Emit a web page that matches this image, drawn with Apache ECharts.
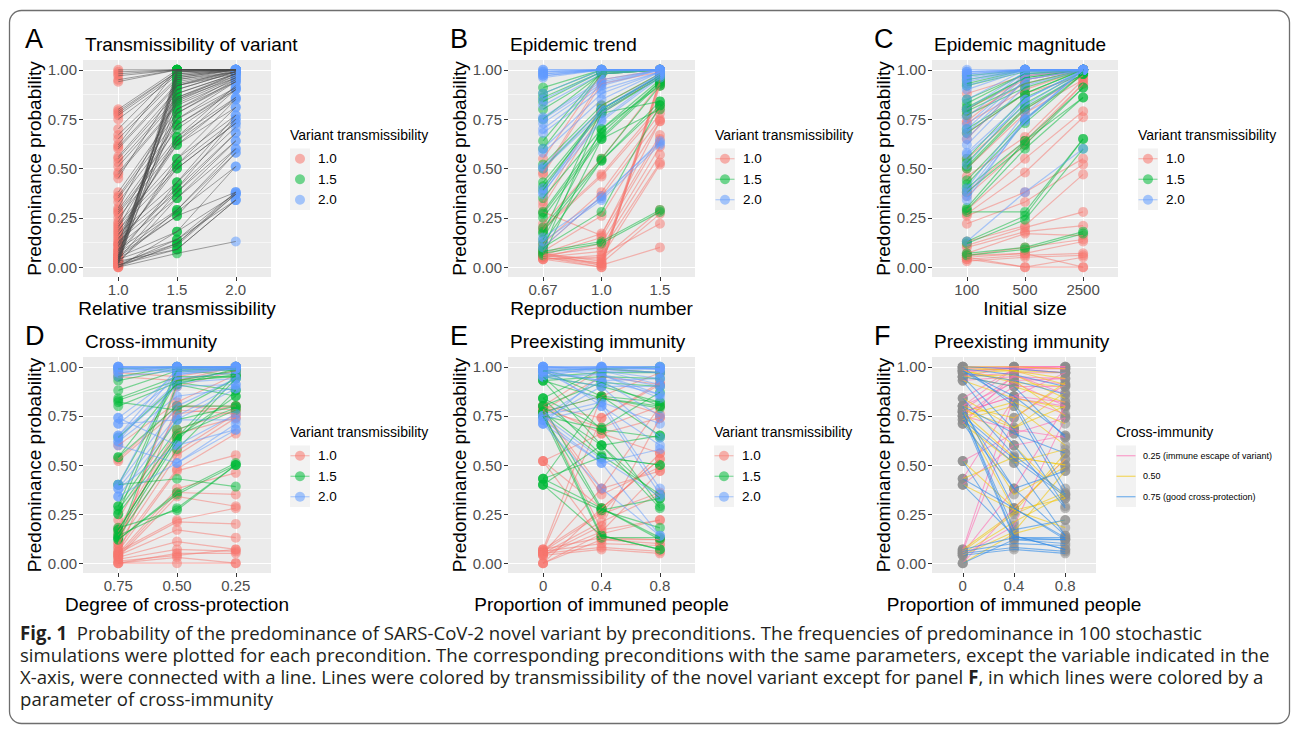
<!DOCTYPE html>
<html><head><meta charset="utf-8">
<script src="https://cdn.jsdelivr.net/npm/echarts@6/dist/echarts.min.js"></script>
<style>html,body{margin:0;padding:0;background:#fff}#c{width:1295px;height:734px}</style>
</head><body><div id="c"></div>
<script>
// ---------------- DATA ----------------
const yTicks = [0, 0.25, 0.5, 0.75, 1];
const yMinor = [0.125, 0.375, 0.625, 0.875];
const catA = ['1.0', '1.5', '2.0'];
const catB = ['0.67', '1.0', '1.5'];
const catC = ['100', '500', '2500'];
const catD = ['0.75', '0.50', '0.25'];
const catE = ['0', '0.4', '0.8'];
const catF = ['0', '0.4', '0.8'];
const transLevels = ['1.0', '1.5', '2.0'];
const crossLevels = ['0.25 (immune escape of variant)', '0.50', '0.75 (good cross-protection)'];

// Panel A: each line = [T1.0, T1.5, T2.0]
const linesA = [
[1.00,1.00,1.00],[0.99,1.00,1.00],[0.98,1.00,1.00],[0.97,1.00,1.00],[0.95,1.00,1.00],[0.94,1.00,1.00],
[0.80,1.00,1.00],[0.79,0.99,1.00],[0.78,0.99,1.00],[0.77,0.98,1.00],[0.75,0.97,1.00],[0.70,1.00,1.00],[0.62,1.00,1.00],
[0.67,0.96,1.00],[0.65,0.95,0.99],[0.61,0.93,0.99],[0.60,0.92,0.98],
[0.56,0.90,0.99],[0.55,0.88,0.98],[0.53,0.86,0.97],[0.51,0.85,0.96],[0.48,0.83,0.96],[0.47,0.82,0.95],[0.45,0.92,1.00],
[0.38,0.80,0.94],[0.36,0.78,0.94],[0.35,0.75,0.91],[0.33,0.72,0.90],[0.30,0.85,0.98],
[0.29,0.70,0.90],[0.28,0.66,0.86],[0.27,0.64,0.85],[0.25,0.62,0.81],
[0.23,0.75,0.94],[0.22,0.55,0.77],[0.21,0.52,0.75],[0.20,0.72,0.91],[0.19,0.50,0.73],[0.18,0.62,0.86],[0.17,0.43,0.71],[0.16,0.64,0.90],[0.15,0.40,0.68],[0.14,0.66,0.92],[0.13,0.38,0.64],[0.12,0.86,0.98],[0.12,0.50,0.73],
[0.11,0.35,0.60],[0.11,0.52,0.81],[0.10,0.88,0.98],[0.09,0.29,0.58],[0.09,0.55,0.85],[0.08,0.94,0.99],[0.08,0.40,0.75],[0.07,0.28,0.51],[0.07,0.80,0.96],[0.06,0.26,0.38],[0.06,0.96,1.00],[0.06,0.43,0.77],
[0.05,0.18,0.37],[0.05,1.00,1.00],[0.05,0.90,0.99],[0.05,0.26,0.58],[0.04,0.14,0.34],[0.04,0.97,1.00],[0.04,0.78,0.95],[0.04,0.38,0.68],[0.03,0.09,0.34],[0.03,0.99,1.00],[0.03,0.92,0.99],[0.03,0.29,0.60],
[0.02,0.12,0.38],[0.02,0.98,1.00],[0.02,0.84,0.97],[0.02,0.35,0.64],[0.01,0.11,0.37],[0.01,0.95,1.00],[0.01,0.14,0.38],[0.01,0.09,0.34],[0.00,0.07,0.13],[0.00,0.18,0.51],[0.00,0.12,0.37]
];

// Panel B: [R0.67, R1.0, R1.5] by transmissibility
const linesB_t10 = [
[0.55,0.98,1.00],[0.48,0.95,1.00],[0.47,0.93,0.99],[0.33,0.82,0.98],[0.31,0.78,0.97],[0.22,0.55,0.93],[0.20,0.47,0.82],[0.19,0.46,0.80],[0.12,0.38,0.78],
[0.10,0.36,0.75],[0.08,0.26,0.74],[0.07,0.17,0.67],[0.06,0.15,0.65],[0.05,0.12,0.61],[0.06,0.10,0.57],[0.05,0.08,0.53],[0.04,0.05,0.52],[0.07,0.03,0.95],
[0.06,0.02,0.94],[0.05,0.00,0.93],[0.04,0.00,0.95],[0.05,0.01,0.92],[0.06,0.04,0.29],[0.05,0.02,0.27],[0.04,0.06,0.22],[0.07,0.01,0.10],[0.28,0.16,0.74]
];
const linesB_t15 = [
[0.91,1.00,1.00],[0.88,1.00,1.00],[0.86,0.99,1.00],[0.84,0.99,1.00],[0.80,0.98,1.00],[0.75,0.98,1.00],[0.64,0.99,1.00],[0.60,0.98,1.00],[0.52,0.82,0.98],
[0.50,0.80,0.97],[0.43,0.79,0.96],[0.41,0.78,0.96],[0.39,0.80,0.97],[0.35,0.70,0.95],[0.28,0.68,0.94],[0.27,0.66,0.94],[0.25,0.65,0.93],[0.20,0.55,0.92],
[0.18,0.54,0.84],[0.17,0.80,0.97],[0.12,0.54,0.82],[0.10,0.28,0.82],[0.08,0.13,0.29],[0.07,0.12,0.28],[0.06,0.65,0.80],[0.09,0.78,0.84],[0.14,0.70,0.92]
];
const linesB_t20 = [
[1.00,1.00,1.00],[0.99,1.00,1.00],[0.98,1.00,1.00],[0.97,1.00,1.00],[1.00,1.00,1.00],[0.99,1.00,1.00],[0.98,1.00,1.00],[0.97,1.00,1.00],[0.96,1.00,1.00],
[0.88,1.00,1.00],[0.85,0.99,1.00],[0.82,0.98,1.00],[0.76,0.95,1.00],[0.75,0.94,1.00],[0.73,0.93,1.00],[0.70,0.92,1.00],[0.68,0.90,0.99],[0.60,0.88,0.99],
[0.58,0.85,0.99],[0.51,0.80,0.98],[0.50,0.78,0.98],[0.40,0.75,0.97],[0.38,0.74,0.96],[0.37,0.80,0.97],[0.15,0.35,0.64],[0.13,0.34,0.62],[0.10,0.36,0.63]
];

// Panel C: [N100, N500, N2500]
const linesC_t10 = [
[0.88,0.97,1.00],[0.80,0.95,1.00],[0.77,0.93,1.00],[0.74,0.97,1.00],[0.73,0.90,1.00],[0.68,0.88,0.97],[0.65,0.95,1.00],[0.55,0.80,0.97],[0.50,0.78,0.95],
[0.46,0.66,0.95],[0.38,0.64,0.93],[0.36,0.62,0.93],[0.29,0.55,0.79],[0.27,0.48,0.76],[0.26,0.38,0.55],[0.22,0.33,0.52],[0.13,0.21,0.47],[0.11,0.20,0.28],
[0.10,0.18,0.21],[0.07,0.17,0.16],[0.06,0.10,0.14],[0.05,0.07,0.13],[0.04,0.06,0.07],[0.03,0.05,0.06],[0.05,0.00,0.05],[0.04,0.00,0.00],[0.06,0.07,0.00]
];
const linesC_t15 = [
[0.97,1.00,1.00],[0.95,1.00,1.00],[0.93,1.00,1.00],[0.92,0.99,1.00],[0.85,0.98,1.00],[0.83,0.98,1.00],[0.81,0.96,1.00],[0.80,0.96,1.00],[0.79,0.93,1.00],
[0.77,0.91,1.00],[0.70,0.88,1.00],[0.68,0.88,1.00],[0.55,0.86,0.99],[0.53,0.83,0.99],[0.51,0.81,0.98],[0.50,0.80,0.98],[0.44,0.75,0.98],[0.42,0.73,0.98],
[0.40,0.64,0.91],[0.38,0.62,0.91],[0.29,0.60,0.86],[0.28,0.28,0.65],[0.13,0.26,0.65],[0.12,0.24,0.60],[0.07,0.10,0.18],[0.06,0.09,0.17],[0.30,0.64,0.86]
];
const linesC_t20 = [
[1.00,1.00,1.00],[0.99,1.00,1.00],[0.98,1.00,1.00],[0.97,1.00,1.00],[0.96,1.00,1.00],[0.94,1.00,1.00],[0.92,1.00,1.00],[0.90,1.00,1.00],[0.85,1.00,1.00],
[0.80,0.99,1.00],[0.76,0.99,1.00],[0.72,0.98,1.00],[0.70,0.97,1.00],[0.68,0.95,1.00],[0.65,0.95,1.00],[0.58,0.85,1.00],[0.57,0.82,1.00],[0.52,0.85,1.00],
[0.40,0.78,1.00],[0.38,0.75,1.00],[0.36,0.74,1.00],[0.34,0.75,1.00],[0.13,0.38,0.60],[0.98,1.00,1.00],[0.99,1.00,1.00],[0.95,1.00,1.00],[0.62,0.92,1.00]
];

// Panel D: [C0.75, C0.50, C0.25]
const linesD_t10 = [
[0.97,0.95,1.00],[0.95,0.93,0.98],[0.60,0.82,0.96],[0.53,0.80,0.78],[0.52,0.78,0.76],[0.22,0.76,0.80],[0.18,0.68,0.78],[0.16,0.66,0.74],[0.14,0.57,0.76],
[0.10,0.55,0.74],[0.08,0.48,0.66],[0.06,0.47,0.55],[0.05,0.38,0.46],[0.04,0.36,0.35],[0.03,0.34,0.29],[0.06,0.22,0.28],[0.05,0.21,0.20],[0.04,0.17,0.13],
[0.03,0.11,0.07],[0.02,0.07,0.06],[0.00,0.05,0.05],[0.01,0.04,0.07],[0.00,0.03,0.00],[0.00,0.00,0.00],[0.08,0.93,1.00],[0.10,0.90,0.98],[0.04,0.80,0.80]
];
const linesD_t15 = [
[0.99,1.00,1.00],[0.95,1.00,0.99],[0.93,0.99,0.98],[0.88,0.98,0.96],[0.84,0.95,0.95],[0.83,0.93,0.95],[0.82,0.78,0.94],[0.80,0.92,0.88],[0.64,0.91,0.85],
[0.54,0.80,0.80],[0.40,0.43,0.39],[0.29,0.73,0.80],[0.27,0.68,0.79],[0.25,0.65,0.78],[0.17,0.64,0.96],[0.15,0.62,0.94],[0.13,0.58,0.88],[0.12,0.36,0.51],
[0.12,0.35,0.50],[0.14,0.28,0.50],[0.18,0.27,0.50],[0.29,0.99,1.00],[0.25,0.98,0.99],[0.54,0.92,0.96],[0.40,0.93,0.98],[0.13,0.91,0.99],[0.17,0.64,0.85]
];
const linesD_t20 = [
[1.00,1.00,1.00],[1.00,1.00,1.00],[0.99,1.00,1.00],[1.00,0.99,1.00],[0.98,1.00,1.00],[0.97,0.99,1.00],[0.95,0.98,1.00],[1.00,1.00,0.99],[0.99,0.98,0.99],
[1.00,0.97,1.00],[0.74,0.96,0.99],[0.71,0.94,0.97],[0.65,0.92,0.94],[0.64,0.90,0.91],[0.62,0.85,0.89],[0.40,0.80,0.94],[0.38,0.75,0.91],[0.34,0.73,0.89],
[0.74,0.60,0.76],[0.71,0.73,0.73],[0.60,0.51,0.71],[0.38,0.60,0.68],[0.40,0.96,1.00],[0.65,0.99,1.00],[0.62,0.97,0.99],[0.34,0.51,0.68],[0.97,1.00,1.00]
];

// Panels E & F: [P0, P0.4, P0.8, cross-protection]
const linesE_t10 = [
[0.80,0.99,0.97,0.25],[0.80,0.74,0.92,0.50],[0.80,0.66,0.56,0.75],
[0.78,0.95,0.91,0.25],[0.78,0.69,0.80,0.50],[0.78,0.38,0.47,0.75],
[0.77,0.85,0.76,0.25],[0.77,0.35,0.49,0.50],[0.77,0.17,0.22,0.75],
[0.52,0.66,0.74,0.25],[0.52,0.28,0.53,0.50],[0.52,0.12,0.10,0.75],
[0.07,0.85,0.97,0.25],[0.07,0.26,0.56,0.50],[0.07,0.13,0.12,0.75],
[0.06,0.74,0.91,0.25],[0.06,0.25,0.36,0.50],[0.06,0.10,0.09,0.75],
[0.05,0.38,0.80,0.25],[0.05,0.21,0.35,0.50],[0.05,0.08,0.06,0.75],
[0.04,0.19,0.74,0.25],[0.04,0.16,0.47,0.50],[0.04,0.07,0.05,0.75],
[0.00,0.28,0.53,0.25],[0.00,0.15,0.22,0.50],[0.00,0.12,0.12,0.75]
];
const linesE_t15 = [
[0.98,0.99,1.00,0.25],[0.98,0.92,0.90,0.50],[0.98,0.85,0.65,0.75],
[0.95,0.97,0.97,0.25],[0.95,0.90,0.82,0.50],[0.95,0.68,0.29,0.75],
[0.93,0.95,0.94,0.25],[0.93,0.84,0.79,0.50],[0.93,0.60,0.28,0.75],
[0.84,0.99,0.97,0.25],[0.84,0.69,0.87,0.50],[0.84,0.55,0.35,0.75],
[0.80,0.92,0.80,0.25],[0.80,0.60,0.33,0.50],[0.80,0.28,0.12,0.75],
[0.77,0.85,0.82,0.25],[0.77,0.54,0.50,0.50],[0.77,0.14,0.07,0.75],
[0.75,0.68,0.64,0.25],[0.75,0.27,0.18,0.50],[0.75,0.13,0.13,0.75],
[0.43,0.84,0.80,0.25],[0.43,0.54,0.50,0.50],[0.43,0.28,0.13,0.75],
[0.40,0.60,0.65,0.25],[0.40,0.27,0.33,0.50],[0.40,0.14,0.07,0.75]
];
const linesE_t20 = [
[1.00,1.00,1.00,0.25],[1.00,1.00,0.99,0.50],[1.00,0.99,0.97,0.75],
[0.99,1.00,1.00,0.25],[0.99,0.98,0.94,0.50],[0.99,0.96,0.90,0.75],
[0.97,1.00,1.00,0.25],[0.97,0.98,0.91,0.50],[0.97,0.93,0.86,0.75],
[0.95,1.00,0.99,0.25],[0.95,0.96,0.84,0.50],[0.95,0.90,0.64,0.75],
[1.00,0.99,0.99,0.25],[1.00,0.98,0.97,0.50],[1.00,0.80,0.35,0.75],
[0.98,0.99,0.99,0.25],[0.98,0.93,0.75,0.50],[0.98,0.82,0.38,0.75],
[0.75,0.93,0.94,0.25],[0.75,0.82,0.71,0.50],[0.75,0.53,0.34,0.75],
[0.73,0.90,0.90,0.25],[0.73,0.80,0.60,0.50],[0.73,0.51,0.14,0.75],
[0.71,0.96,0.86,0.25],[0.71,0.51,0.58,0.50],[0.71,0.38,0.14,0.75]
];

const captionLines = [
  '{b|Fig. 1}  Probability of the predominance of SARS-CoV-2 novel variant by preconditions. The frequencies of predominance in 100 stochastic',
  'simulations were plotted for each precondition. The corresponding preconditions with the same parameters, except the variable indicated in the',
  'X-axis, were connected with a line. Lines were colored by transmissibility of the novel variant except for panel {b|F}, in which lines were colored by a',
  'parameter of cross-immunity'
];

// ---------------- STYLE / LAYOUT ----------------
const FONT = '"Liberation Sans", Arial, sans-serif';
const hue = ['#F8766D', '#00BA38', '#619CFF'];
const crossCol = ['#FF6EB4', '#F2C811', '#2F8BE8'];
const panels = [
  {letter:'A', title:'Transmissibility of variant', xName:'Relative transmissibility', cats:catA, left:83, top:60, width:188, height:217},
  {letter:'B', title:'Epidemic trend', xName:'Reproduction number', cats:catB, left:508, top:60, width:187, height:217},
  {letter:'C', title:'Epidemic magnitude', xName:'Initial size', cats:catC, left:932, top:60, width:186, height:217},
  {letter:'D', title:'Cross-immunity', xName:'Degree of cross-protection', cats:catD, left:83, top:357, width:188, height:216},
  {letter:'E', title:'Preexisting immunity', xName:'Proportion of immuned people', cats:catE, left:508, top:357, width:187, height:216},
  {letter:'F', title:'Preexisting immunity', xName:'Proportion of immuned people', cats:catF, left:932, top:357, width:164, height:216}
];

const grid = [], xAxis = [], yAxis = [], series = [], graphic = [];

panels.forEach((p, gi) => {
  grid.push({left:p.left, top:p.top, width:p.width, height:p.height, show:true, backgroundColor:'#EBEBEB', borderWidth:0});
  xAxis.push({
    type:'value', gridIndex:gi, min:-0.6, max:2.6, position:'bottom',
    axisLine:{show:false, onZero:false},
    axisTick:{show:true, customValues:[0,1,2], length:4, lineStyle:{color:'#333333', width:1}},
    axisLabel:{customValues:[0,1,2], formatter:(v)=>p.cats[Math.round(v)], color:'#4D4D4D', fontSize:15, fontFamily:FONT, margin:5},
    splitLine:{show:true, lineStyle:{color:'#FFFFFF', width:1.1}},
    name:p.xName, nameLocation:'middle', nameGap:22,
    nameTextStyle:{fontSize:19, color:'#000', fontFamily:FONT}
  });
  yAxis.push({
    type:'value', gridIndex:gi, min:-0.05, max:1.05, position:'left',
    axisLine:{show:false, onZero:false},
    axisTick:{show:true, customValues:yTicks, length:4, lineStyle:{color:'#333333', width:1}},
    axisLabel:{customValues:yTicks, formatter:(v)=>v.toFixed(2), color:'#4D4D4D', fontSize:15, fontFamily:FONT, margin:6},
    splitLine:{show:true, lineStyle:{color:'#FFFFFF', width:1.1}},
    name:'Predominance probability', nameLocation:'middle', nameGap:39, nameRotate:90,
    nameTextStyle:{fontSize:19, color:'#000', fontFamily:FONT}
  });
  yAxis.push({
    type:'value', gridIndex:gi, min:-0.05, max:1.05, position:'right',
    axisLine:{show:false, onZero:false},
    axisTick:{show:false, customValues:yMinor},
    axisLabel:{show:false, customValues:yMinor},
    splitLine:{show:true, lineStyle:{color:'#FFFFFF', width:0.55}}
  });
  graphic.push({type:'text', x:p.left - 58, y:p.top - 21, style:{text:p.letter, fontSize:27, fontFamily:FONT, fill:'#000', verticalAlign:'middle'}});
  graphic.push({type:'text', x:p.left + 2, y:p.top - 16, style:{text:p.title, fontSize:19, fontFamily:FONT, fill:'#000', verticalAlign:'middle'}});
});

function lineSeries(gi, arr, color, width, opacity) {
  return {type:'lines', coordinateSystem:'cartesian2d', xAxisIndex:gi, yAxisIndex:2*gi, polyline:true, silent:true, z:3,
    lineStyle:{color:color, width:width, opacity:opacity},
    data: arr.map(r => ({coords:[[0,r[0]],[1,r[1]],[2,r[2]]]}))};
}
function pointSeries(gi, pts, color, opacity) {
  return {type:'scatter', xAxisIndex:gi, yAxisIndex:2*gi, symbol:'circle', symbolSize:10, silent:true, z:2,
    itemStyle:{color:color, opacity:opacity}, data:pts};
}
function allPoints(arr) { const out = []; arr.forEach(r => { for (let i=0;i<3;i++) out.push([i, r[i]]); }); return out; }

// Panel A
for (let k=0;k<3;k++) series.push(pointSeries(0, linesA.map(r => [k, r[k]]), hue[k], 0.55));
series.push(lineSeries(0, linesA, '#4A4A4A', 1, 0.5));
// Panels B-E
const groups = [
  [linesB_t10, linesB_t15, linesB_t20],
  [linesC_t10, linesC_t15, linesC_t20],
  [linesD_t10, linesD_t15, linesD_t20],
  [linesE_t10, linesE_t15, linesE_t20]
];
groups.forEach((g, j) => {
  const gi = j + 1;
  g.forEach((arr, k) => series.push(pointSeries(gi, allPoints(arr), hue[k], 0.5)));
  g.forEach((arr, k) => series.push(lineSeries(gi, arr, hue[k], 1.2, 0.5)));
});
// Panel F
const allE = linesE_t10.concat(linesE_t15, linesE_t20);
series.push(pointSeries(5, allPoints(allE), '#8C8C8C', 0.55));
[0.25, 0.5, 0.75].forEach((c, k) => series.push(lineSeries(5, allE.filter(r => r[3] === c), crossCol[k], 1.1, 0.6)));

// Legends
function legend(x, ty, title, labels, colors, mode) {
  graphic.push({type:'text', x:x, y:ty, style:{text:title, fontSize:14, fontFamily:FONT, fill:'#000', verticalAlign:'middle'}});
  const top = ty + 13.5;
  graphic.push({type:'rect', shape:{x:x, y:top, width:20, height:61.5}, style:{fill:'#F2F2F2'}});
  labels.forEach((lab, i) => {
    const cy = top + 10.25 + i*20.5;
    if (mode !== 'point') graphic.push({type:'line', shape:{x1:x+0.5, y1:cy, x2:x+19.5, y2:cy}, style:{stroke:colors[i], lineWidth:1.1, opacity: mode==='lineonly'?0.7:0.5}});
    if (mode !== 'lineonly') graphic.push({type:'circle', shape:{cx:x+10, cy:cy, r:5}, style:{fill:colors[i], opacity:0.55}});
    graphic.push({type:'text', x: mode==='lineonly' ? x+27 : x+28, y:cy, style:{text:lab, fontSize: mode==='lineonly'?9:13.5, fontFamily:FONT, fill:'#000', verticalAlign:'middle'}});
  });
}
legend(290, 135, 'Variant transmissibility', transLevels, hue, 'point');
legend(715, 135, 'Variant transmissibility', transLevels, hue, 'both');
legend(1138, 135, 'Variant transmissibility', transLevels, hue, 'both');
legend(290, 432, 'Variant transmissibility', transLevels, hue, 'both');
legend(714, 432, 'Variant transmissibility', transLevels, hue, 'both');
legend(1116, 432, 'Cross-immunity', crossLevels, crossCol, 'lineonly');

// Border
graphic.push({type:'rect', z:-10, shape:{x:9.5, y:10.5, width:1280, height:713, r:12}, style:{fill:'none', stroke:'#6E6E6E', lineWidth:1.3}});

// Caption
const CAPFONT = '"Open Sans", "Liberation Sans", sans-serif';
const CAPSIZE = 19;
const ctx = document.createElement('canvas').getContext('2d');
ctx.font = CAPSIZE + 'px ' + CAPFONT;
const capScale = 1250 / ctx.measureText(captionLines[1]).width;
captionLines.forEach((t, i) => {
  graphic.push({type:'text', x:20, y:633 + i*22, scaleX:capScale, style:{text:t, fontSize:CAPSIZE, fontFamily:CAPFONT, fill:'#231F20', verticalAlign:'middle',
    rich:{b:{fontWeight:'bold', fontSize:CAPSIZE, fontFamily:CAPFONT, fill:'#231F20'}}}});
});

const chart = echarts.init(document.getElementById('c'), null, {renderer:'svg'});
chart.setOption({animation:false, grid, xAxis, yAxis, series, graphic});
</script></body></html>
